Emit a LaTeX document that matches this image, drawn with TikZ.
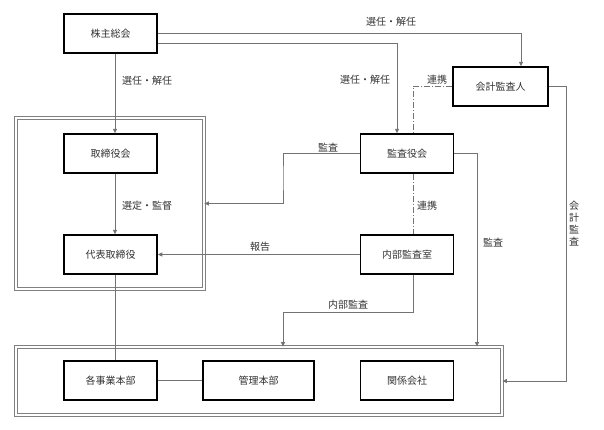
\documentclass[tikz,border=0pt]{standalone}
\usepackage{fontspec}
\setmainfont{Noto Sans CJK JP}
\usetikzlibrary{arrows.meta}

\begin{document}
\begin{tikzpicture}[x=1pt, y=-1pt, font=\fontsize{10}{12}\selectfont, >={Triangle[length=4.5pt,width=4pt]},
	box/.style={draw, line width=1.5pt, minimum width=93pt, minimum height=39pt, inner sep=0pt, text=black!80},
	frame/.style={draw=black!50, double=white, double distance=2pt, line width=0.8pt, inner sep=0pt},
	link/.style={draw=black!55, line width=0.7pt},
	renkei/.style={link, dash pattern=on 6pt off 2pt on 1pt off 2pt},
	lbl/.style={inner sep=1pt, text=black!80}]
	\useasboundingbox (0,0) rectangle (604,429);
	% frames
	\node[frame, minimum width=188pt, minimum height=171pt] (board) at (110,203.5) {};
	\node[frame, minimum width=486pt, minimum height=68pt] (group) at (259,381) {};
	% boxes
	\node[box] (soukai) at (110.5,33.5) {株主総会};
	\node[box, minimum width=95pt] (kaikei) at (500.5,86.5) {会計監査人};
	\node[box] (torishimari) at (110.5,153.5) {取締役会};
	\node[box] (kansayaku) at (407,153.5) {監査役会};
	\node[box] (daihyo) at (110.5,254.5) {代表取締役};
	\node[box] (naibu) at (407,254.5) {内部監査室};
	\node[box] (jigyo) at (110.5,380.5) {各事業本部};
	\node[box, minimum width=111pt] (kanri) at (258.5,380.5) {管理本部};
	\node[box] (kankei) at (407,380.5) {関係会社};
	% connectors
	\draw[link,->] (soukai.east) -| ([xshift=20.5pt]kaikei.north);
	\draw[link,->] ([yshift=-9.5pt]soukai.east) -| ([xshift=-10pt]kansayaku.north);
	\draw[link,->] ([xshift=4.5pt]soukai.south) -- ([xshift=4.5pt]torishimari.north);
	\draw[link,->] ([xshift=4.5pt]torishimari.south) -- ([xshift=4.5pt]daihyo.north);
	\draw[link] ([xshift=4.5pt]daihyo.south) -- ([xshift=4.5pt]jigyo.north);
	\draw[link] (jigyo) -- (kanri);
	\draw[link,->] (kansayaku.west) -| (283,178) |- (board.east);
	\draw[link,->] (naibu) -- (daihyo);
	\draw[renkei] (kaikei.west) -| ([xshift=6pt]kansayaku.north);
	\draw[renkei] ([xshift=6pt]kansayaku.south) -- ([xshift=6pt]naibu.north);
	\draw[link,->] (kansayaku.east) -| (477,0 |- group.north);
	\draw[link,->] (kaikei.east) -| (566,0 |- group.east) -- (group.east);
	\draw[link,->] ([xshift=6pt]naibu.south) |- (283,312) -- (283,0 |- group.north);
	% labels
	\node[lbl] (l1) at (391,22) {選任・解任};
	\node[lbl] (l2) at (147,81) {選任・解任};
	\node[lbl] (l3) at (365,80) {選任・解任};
	\node[lbl] (l4) at (437,80) {連携};
	\node[lbl] (l5) at (328,148) {監査};
	\node[lbl] (l6) at (147,206) {選定・監督};
	\node[lbl] (l7) at (427,206) {連携};
	\node[lbl] (l8) at (260,247) {報告};
	\node[lbl] (l9) at (493,243) {監査};
	\node[lbl, align=center] (l10) at (574,224) {会\\計\\監\\査};
	\node[lbl] (l11) at (348,305) {内部監査};
\end{tikzpicture}
\end{document}
